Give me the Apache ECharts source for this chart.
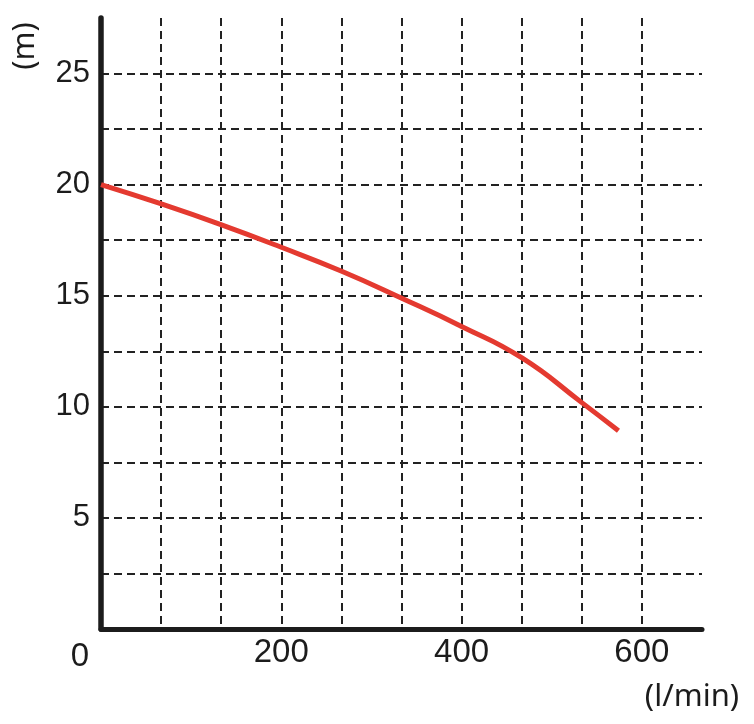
<!DOCTYPE html>
<html>
<head>
<meta charset="utf-8">
<title>pump curve</title>
<script src="https://cdn.jsdelivr.net/npm/echarts@6/dist/echarts.min.js"></script>
<style>
html, body {
  margin: 0;
  padding: 0;
  background: #fff;
}
#chart {
  width: 754px;
  height: 724px;
}
</style>
</head>
<body>
<div id="chart"></div>
<script>
// flow (l/min) and head (m) at the grid lines
const flow = [0, 67, 133, 200, 267, 333, 400, 467, 533, 574]
const head = [20.0, 19.13, 18.2, 17.18, 16.1, 14.9, 13.62, 12.2, 10.2, 8.92]

const xLabels = [200, 400, 600]
const yLabels = [5, 10, 15, 20, 25]
const xUnit = '(l/min)'
const yUnit = '(m)'
const origin = '0'

const FONT = 'Liberation Sans, Arial, sans-serif'
const UNIT_FONT = '"Noto Sans", "Open Sans", sans-serif'
const INK = '#1c1c1c'

const points = flow.map((f, i) => [f, head[i]])

const gridLine = {
  show: true,
  showMaxLine: false,
  lineStyle: {
    color: '#222',
    width: 2,
    type: [8, 5]
  }
}

const option = {
  backgroundColor: '#fff',
  animation: false,
  grid: {
    left: 101,
    top: 18,
    right: 52,
    bottom: 95
  },
  xAxis: {
    type: 'value',
    min: 0,
    max: 2000 / 3,
    interval: 200 / 3,
    axisLine: {
      show: true,
      onZero: false,
      lineStyle: { color: INK, width: 5 }
    },
    axisTick: { show: false },
    axisLabel: {
      margin: 7,
      color: INK,
      fontSize: 33,
      fontFamily: FONT,
      formatter: v => xLabels.includes(Math.round(v)) ? String(Math.round(v)) : ''
    },
    splitLine: gridLine
  },
  yAxis: {
    type: 'value',
    min: 0,
    max: 27.5,
    interval: 2.5,
    axisLine: {
      show: true,
      lineStyle: { color: INK, width: 5.5 }
    },
    axisTick: { show: false },
    axisLabel: {
      margin: 11,
      color: INK,
      fontSize: 31,
      fontFamily: FONT,
      formatter: v => yLabels.includes(v) ? String(v) : ''
    },
    splitLine: gridLine
  },
  graphic: [
    {
      type: 'text',
      x: 80,
      y: 657,
      style: {
        text: origin,
        fill: INK,
        font: '33px ' + FONT,
        align: 'center',
        verticalAlign: 'middle'
      }
    },
    {
      type: 'text',
      x: 692,
      y: 697,
      style: {
        text: xUnit,
        fill: INK,
        font: '31px ' + UNIT_FONT,
        align: 'center',
        verticalAlign: 'middle'
      }
    },
    {
      type: 'text',
      x: 25,
      y: 46,
      rotation: Math.PI / 2,
      style: {
        text: yUnit,
        fill: INK,
        font: '31px ' + UNIT_FONT,
        align: 'center',
        verticalAlign: 'middle'
      }
    }
  ],
  series: [
    {
      type: 'line',
      data: points,
      smooth: 0.5,
      symbol: 'none',
      lineStyle: {
        color: '#e43a30',
        width: 5
      }
    }
  ]
}

const chart = echarts.init(document.getElementById('chart'))
chart.setOption(option)
</script>
</body>
</html>
